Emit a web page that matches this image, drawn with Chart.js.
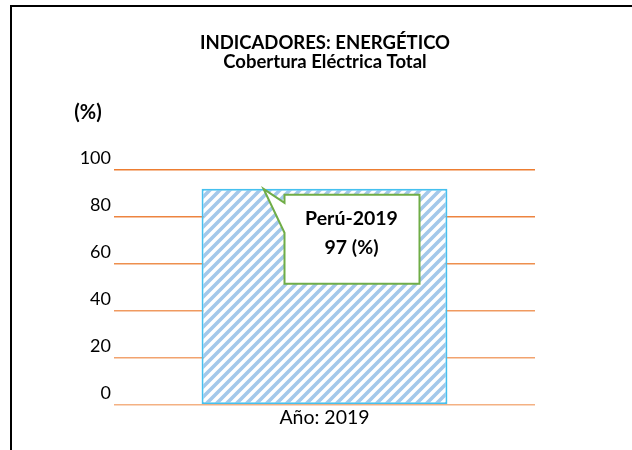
<!DOCTYPE html>
<html>
<head>
<meta charset="utf-8">
<script src="https://cdn.jsdelivr.net/npm/chart.js@4/dist/chart.umd.min.js"></script>
<style>
  html, body { margin: 0; padding: 0; background: #fff; }
  #wrap { width: 632px; height: 450px; position: relative; }
</style>
</head>
<body>
<div id="wrap"><canvas id="chart" width="632" height="450"></canvas></div>
<script>
// Données du graphique
const categories = ['Año: 2019'];
const cobertura = [92];
const yTicks = [0, 20, 40, 60, 80, 100];
const titleLines = ['INDICADORES: ENERGÉTICO', 'Cobertura Eléctrica Total'];
const yUnit = '(%)';
const calloutLines = ['Perú-2019', '97 (%)'];

const FONT = 'Lato, "Open Sans", sans-serif';

// Motif hachuré pour la barre
function makeHatch() {
  const c = document.createElement('canvas');
  c.width = 10; c.height = 10;
  const g = c.getContext('2d');
  g.fillStyle = '#ffffff';
  g.fillRect(0, 0, 10, 10);
  g.strokeStyle = '#a3c8ea';
  g.lineWidth = 3.6;
  g.beginPath();
  g.moveTo(-5, 5); g.lineTo(5, -5);
  g.moveTo(0, 10); g.lineTo(10, 0);
  g.moveTo(5, 15); g.lineTo(15, 5);
  g.stroke();
  return g.createPattern(c, 'repeat');
}

// couleurs des lignes de grille, de 0 à 100
const gridColors = ['#f4b183', '#f2a36f', '#f09a60', '#ee8f4e', '#ed8440', '#ed7d31'];

// Textes, cadre et bulle
const decorPlugin = {
  id: 'decor',
  afterDraw(chart) {
    const ctx = chart.ctx;
    ctx.save();
    // cadre
    ctx.strokeStyle = '#000';
    ctx.lineWidth = 2;
    ctx.beginPath();
    ctx.moveTo(11, 450); ctx.lineTo(11, 6); ctx.lineTo(632, 6);
    ctx.stroke();

    // titre
    ctx.fillStyle = '#000';
    ctx.textAlign = 'center';
    ctx.textBaseline = 'middle';
    ctx.font = 'bold 18.5px ' + FONT;
    ctx.fillText(titleLines[0], 325, 43);
    ctx.fillText(titleLines[1], 325, 62);

    ctx.font = 'bold 20px ' + FONT;
    ctx.fillText(yUnit, 88, 113);

    // bulle
    const bar = chart.getDatasetMeta(0).data[0];
    const tipX = bar.x - 61, tipY = bar.y;
    const bx = tipX + 21, by = tipY + 6, bw = 135, bh = 89;
    ctx.fillStyle = '#fff';
    ctx.strokeStyle = '#70ad47';
    ctx.lineWidth = 2;
    ctx.beginPath();
    ctx.moveTo(bx, by);
    ctx.lineTo(bx + bw, by);
    ctx.lineTo(bx + bw, by + bh);
    ctx.lineTo(bx, by + bh);
    ctx.lineTo(bx, by + 38);
    ctx.lineTo(tipX, tipY);
    ctx.lineTo(bx, by + 8);
    ctx.closePath();
    ctx.fill();
    ctx.stroke();

    ctx.fillStyle = '#000';
    ctx.font = 'bold 19.5px ' + FONT;
    ctx.fillText(calloutLines[0], bx + 67, by + 24);
    ctx.fillText(calloutLines[1], bx + 67, by + 53);
    ctx.restore();
  }
};

const ctx = document.getElementById('chart').getContext('2d');
new Chart(ctx, {
  type: 'bar',
  data: {
    labels: categories,
    datasets: [{
      data: cobertura,
      backgroundColor: makeHatch(),
      borderColor: '#45c0ef',
      borderWidth: 2,
      borderSkipped: false,
      categoryPercentage: 0.584,
      barPercentage: 1
    }]
  },
  options: {
    responsive: false,
    animation: false,
    layout: { padding: { left: 20, right: 97, top: 170, bottom: 0 } },
    plugins: {
      legend: { display: false },
      title: { display: false },
      tooltip: { enabled: false }
    },
    scales: {
      x: {
        border: { display: false },
        grid: { display: false, drawTicks: false },
        ticks: { color: '#000', padding: 1, font: { family: FONT, size: 19.5 } },
        afterFit(scale) { scale.height = 45; }
      },
      y: {
        min: 0,
        max: 100,
        afterBuildTicks(scale) { scale.ticks = yTicks.map(v => ({ value: v })); },
        border: { display: false },
        grid: {
          color: c => gridColors[c.index] || '#ed7d31',
          lineWidth: 1.5,
          drawTicks: false
        },
        ticks: {
          color: '#000',
          padding: 3,
          labelOffset: -12,
          font: { family: FONT, size: 18 }
        },
        afterFit(scale) { scale.width = 94; }
      }
    }
  },
  plugins: [decorPlugin]
});
</script>
</body>
</html>
